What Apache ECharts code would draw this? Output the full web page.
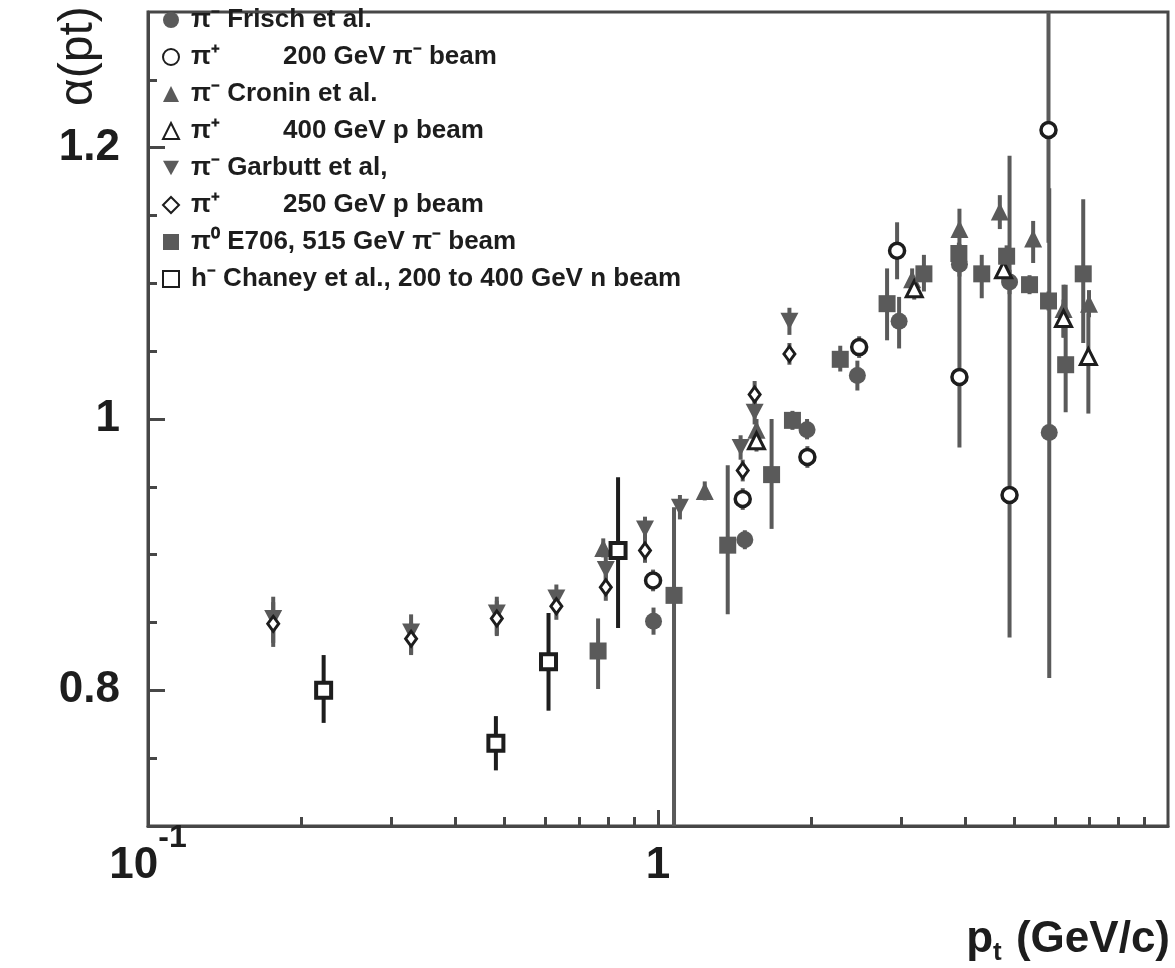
<!DOCTYPE html>
<html>
<head>
<meta charset="utf-8">
<script src="https://cdn.jsdelivr.net/npm/echarts@6/dist/echarts.min.js"></script>
<style>
  html, body { margin: 0; padding: 0; background: #fff; }
  #chart { width: 1175px; height: 968px; }
</style>
</head>
<body>
<div id="chart"></div>
<script>
// Nuclear dependence exponent alpha versus transverse momentum.
// Each point: [pt (GeV/c), alpha, alpha lower error, alpha upper error]
const frischPiMinus = [
  [0.98, 0.851, 0.841, 0.861],
  [1.48, 0.911, 0.904, 0.918],
  [1.96, 0.992, 0.985, 1.000],
  [2.46, 1.032, 1.021, 1.043],
  [2.97, 1.072, 1.052, 1.090],
  [3.90, 1.114, 1.105, 1.123],
  [4.89, 1.101, 1.092, 1.110],
  [5.85, 0.990, 0.809, 1.170]
];
const frischPiPlus = [
  [0.978, 0.881, 0.873, 0.889],
  [1.466, 0.941, 0.933, 0.949],
  [1.963, 0.972, 0.964, 0.980],
  [2.48, 1.053, 1.045, 1.061],
  [2.943, 1.124, 1.103, 1.145],
  [3.90, 1.031, 0.979, 1.129],
  [4.89, 0.944, 0.839, 1.194],
  [5.83, 1.213, 1.130, 1.350]
];
const croninPiMinus = [
  [0.781, 0.905, 0.898, 0.912],
  [1.235, 0.947, 0.940, 0.954],
  [1.56, 0.992, 0.984, 1.000],
  [3.15, 1.103, 1.095, 1.111],
  [3.90, 1.140, 1.120, 1.155],
  [4.68, 1.153, 1.140, 1.165],
  [5.44, 1.133, 1.115, 1.146],
  [6.24, 1.081, 1.060, 1.099],
  [7.00, 1.085, 1.075, 1.095]
];
const croninPiPlus = [
  [1.56, 0.984, 0.976, 0.992],
  [3.18, 1.096, 1.088, 1.104],
  [4.76, 1.110, 1.102, 1.118],
  [6.24, 1.074, 1.060, 1.088],
  [6.98, 1.046, 1.004, 1.078]
];
const garbuttPiMinus = [
  [0.176, 0.853, 0.832, 0.869],
  [0.328, 0.843, 0.827, 0.856],
  [0.483, 0.857, 0.841, 0.869],
  [0.632, 0.868, 0.857, 0.878],
  [0.79, 0.889, 0.879, 0.899],
  [0.943, 0.919, 0.910, 0.928],
  [1.104, 0.935, 0.926, 0.944],
  [1.452, 0.979, 0.970, 0.988],
  [1.547, 1.005, 0.996, 1.014],
  [1.81, 1.072, 1.062, 1.082]
];
const garbuttPiPlus = [
  [0.176, 0.849, 0.835, 0.865],
  [0.328, 0.838, 0.826, 0.850],
  [0.483, 0.853, 0.840, 0.866],
  [0.632, 0.862, 0.852, 0.872],
  [0.79, 0.876, 0.866, 0.886],
  [0.943, 0.903, 0.894, 0.912],
  [1.466, 0.962, 0.954, 0.970],
  [1.547, 1.018, 1.008, 1.028],
  [1.81, 1.048, 1.040, 1.056]
];
const e706PiZero = [
  [0.763, 0.829, 0.801, 0.853],
  [1.075, 0.870, 0.600, 0.935],
  [1.37, 0.907, 0.856, 0.966],
  [1.67, 0.959, 0.919, 1.000],
  [1.835, 0.999, 0.992, 1.006],
  [2.277, 1.044, 1.035, 1.054],
  [2.813, 1.085, 1.058, 1.111],
  [3.322, 1.107, 1.094, 1.121],
  [3.89, 1.122, 1.114, 1.130],
  [4.313, 1.107, 1.089, 1.121],
  [4.826, 1.120, 1.112, 1.128],
  [5.352, 1.099, 1.092, 1.106],
  [5.831, 1.087, 1.080, 1.094],
  [6.30, 1.040, 1.005, 1.099],
  [6.82, 1.107, 1.056, 1.162]
];
const chaneyHMinus = [
  [0.221, 0.800, 0.776, 0.826],
  [0.481, 0.761, 0.741, 0.781],
  [0.610, 0.821, 0.785, 0.857],
  [0.835, 0.903, 0.846, 0.957]
];

const seriesNames = [
  'π⁻ Frisch et al.',
  'π⁺ 200 GeV π⁻ beam',
  'π⁻ Cronin et al.',
  'π⁺ 400 GeV p beam',
  'π⁻ Garbutt et al,',
  'π⁺ 250 GeV p beam',
  'π⁰ E706, 515 GeV π⁻ beam',
  'h⁻ Chaney et al., 200 to 400 GeV n beam'
];

// axis ticks and labels
const xMinorTicks = [0.2, 0.3, 0.4, 0.5, 0.6, 0.7, 0.8, 0.9, 2, 3, 4, 5, 6, 7, 8, 9];
const xMajorTicks = [1];
const xLabelValues = [0.1, 1];
const yMinorTicks = [0.75, 0.8, 0.85, 0.9, 0.95, 1.0, 1.05, 1.1, 1.15, 1.2, 1.25];
const yMajorTicks = [0.8, 1.0, 1.2];

const FONT = '"Liberation Sans", Arial, Helvetica, sans-serif';
const GRAY = '#5a5a5a';
const INK = '#1d1d1d';
const downTriangle = 'path://M0,0L20,0L10,18Z';

const styles = [
  { symbol: 'circle', size: 17, item: { color: GRAY } },
  { symbol: 'circle', size: 15, item: { color: '#fff', borderColor: INK, borderWidth: 3.5 } },
  { symbol: 'triangle', size: 18, item: { color: GRAY } },
  { symbol: 'triangle', size: 16, item: { color: '#fff', borderColor: INK, borderWidth: 3 } },
  { symbol: downTriangle, size: [18, 17], item: { color: GRAY } },
  { symbol: 'diamond', size: [11, 15], item: { color: '#fff', borderColor: INK, borderWidth: 3 } },
  { symbol: 'rect', size: 17, item: { color: GRAY } },
  { symbol: 'rect', size: 15, item: { color: '#fff', borderColor: INK, borderWidth: 4 } }
];
const datasets = [frischPiMinus, frischPiPlus, croninPiMinus, croninPiPlus,
  garbuttPiMinus, garbuttPiPlus, e706PiZero, chaneyHMinus];
const barColors = [GRAY, GRAY, GRAY, GRAY, GRAY, GRAY, GRAY, INK];

function errorBars(points, color) {
  return {
    type: 'custom',
    data: points.map(p => [p[0], p[2], p[3]]),
    encode: { x: 0, y: [1, 2] },
    clip: true,
    silent: true,
    z: 1,
    renderItem: function (params, api) {
      const a = api.coord([api.value(0), api.value(1)]);
      const b = api.coord([api.value(0), api.value(2)]);
      return {
        type: 'line',
        shape: { x1: a[0], y1: a[1], x2: b[0], y2: b[1] },
        style: { stroke: color, lineWidth: 4 }
      };
    }
  };
}

const series = [];
datasets.forEach((pts, i) => series.push(errorBars(pts, barColors[i])));
datasets.forEach((pts, i) => {
  series.push({
    type: 'scatter',
    name: seriesNames[i],
    data: pts.map(p => [p[0], p[1]]),
    symbol: styles[i].symbol,
    symbolSize: styles[i].size,
    itemStyle: Object.assign({ opacity: 1 }, styles[i].item),
    emphasis: { disabled: true },
    silent: true,
    z: 3
  });
});

const axisLineStyle = { color: '#474747', width: 3 };

const option = {
  animation: false,
  backgroundColor: '#ffffff',
  grid: {
    left: 148, right: 7, top: 12, bottom: 142,
    show: true, borderColor: '#474747', borderWidth: 3,
    backgroundColor: 'transparent'
  },
  legend: {
    data: seriesNames,
    orient: 'vertical',
    left: 162, top: 7,
    padding: 0,
    itemWidth: 16, itemHeight: 16,
    itemGap: 11,
    selectedMode: false,
    inactiveColor: INK,
    textStyle: {
      fontFamily: FONT, fontSize: 26, fontWeight: 'bold', color: INK, lineHeight: 26,
      rich: {
        lead: { fontFamily: FONT, fontSize: 26, fontWeight: 'bold', color: INK, width: 92, padding: [0, 0, 0, 7] },
        txt: { fontFamily: FONT, fontSize: 26, fontWeight: 'bold', color: INK, padding: [0, 0, 0, 7] },
        rest: { fontFamily: FONT, fontSize: 26, fontWeight: 'bold', color: INK }
      }
    },
    formatter: function (name) {
      const cut = name.indexOf(' ');
      const head = name.slice(0, cut);
      const tail = name.slice(cut + 1);
      if (head === 'π⁺') return '{lead|' + head + '}{rest|' + tail + '}';
      return '{txt|' + name + '}';
    }
  },
  xAxis: [
    {
      type: 'log', logBase: 10, min: 0.1, max: 10,
      axisLine: { show: true, onZero: false, lineStyle: axisLineStyle },
      axisTick: { show: true, inside: true, length: 9, customValues: xMinorTicks,
        lineStyle: { color: '#474747', width: 3 } },
      splitLine: { show: false },
      minorTick: { show: false },
      axisLabel: {
        show: true, customValues: xLabelValues, margin: 18, color: INK,
        formatter: function (v) {
          return Math.abs(v - 0.1) < 1e-6 ? '{m|10}{s|-1}' : '{m|1}{s|\u200b}';
        },
        rich: {
          m: { fontFamily: FONT, fontSize: 44, fontWeight: 'bold', color: INK, lineHeight: 44 },
          s: { fontFamily: FONT, fontSize: 32, fontWeight: 'bold', color: INK, lineHeight: 32, padding: [0, 0, 56, 0] }
        }
      }
    },
    {
      type: 'log', logBase: 10, min: 0.1, max: 10, position: 'bottom',
      axisLine: { show: false, onZero: false },
      axisTick: { show: true, inside: true, length: 16, customValues: xMajorTicks,
        lineStyle: { color: '#474747', width: 3 } },
      splitLine: { show: false },
      axisLabel: { show: false }
    }
  ],
  yAxis: [
    {
      type: 'value', min: 0.7, max: 1.3,
      axisLine: { show: true, onZero: false, lineStyle: axisLineStyle },
      axisTick: { show: true, inside: true, length: 9, customValues: yMinorTicks,
        lineStyle: { color: '#474747', width: 3 } },
      splitLine: { show: false },
      axisLabel: {
        show: true, customValues: yMajorTicks, margin: 28, color: INK,
        fontFamily: FONT, fontSize: 44, fontWeight: 'bold',
        formatter: function (v) { return Math.abs(v - 1) < 1e-9 ? '1' : v.toFixed(1); }
      }
    },
    {
      type: 'value', min: 0.7, max: 1.3, position: 'left',
      axisLine: { show: false, onZero: false },
      axisTick: { show: true, inside: true, length: 17, customValues: yMajorTicks,
        lineStyle: { color: '#474747', width: 3 } },
      splitLine: { show: false },
      axisLabel: { show: false }
    }
  ],
  graphic: [
    {
      type: 'text', x: 79, y: 106, rotation: Math.PI / 2, silent: true,
      style: { text: 'α(pt)', fontFamily: FONT, fontSize: 48, fill: INK,
        align: 'left', verticalAlign: 'middle' }
    },
    {
      type: 'text', x: 1170, y: 940, silent: true,
      style: {
        text: '{p|p}{t|t}{g| (GeV/c)}', align: 'right', verticalAlign: 'middle',
        rich: {
          p: { fontFamily: FONT, fontSize: 44, fontWeight: 'bold', fill: INK },
          t: { fontFamily: FONT, fontSize: 26, fontWeight: 'bold', fill: INK, padding: [26, 2, 0, 0] },
          g: { fontFamily: FONT, fontSize: 44, fontWeight: 'bold', fill: INK }
        }
      }
    }
  ],
  series: series
};

const chart = echarts.init(document.getElementById('chart'), null, { renderer: 'canvas' });
chart.setOption(option);
</script>
</body>
</html>
